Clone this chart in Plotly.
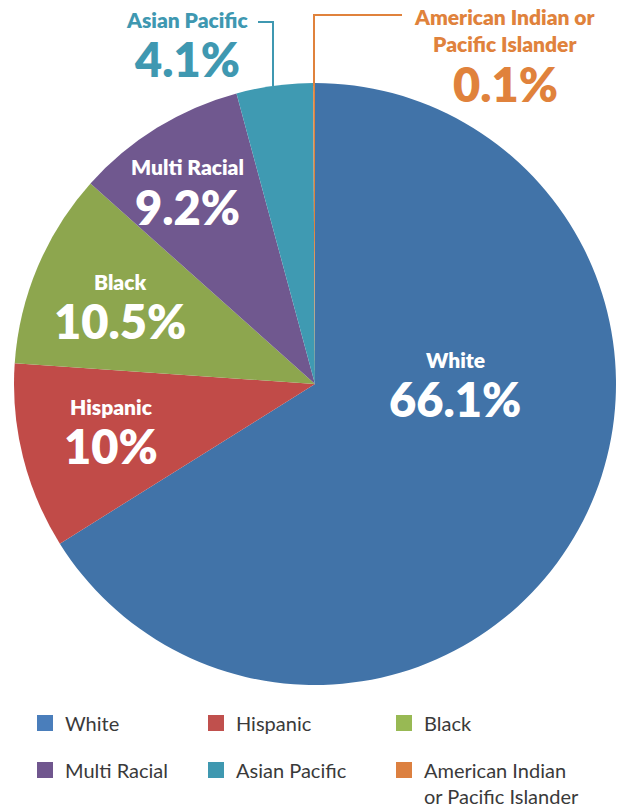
import plotly.graph_objects as go

# ---- data ----
categories = ["White", "Hispanic", "Black", "Multi Racial", "Asian Pacific",
              "American Indian or Pacific Islander"]
shares = [66.1, 10, 10.5, 9.2, 4.1, 0.1]
callout_names = ["White", "Hispanic", "Black", "Multi Racial", "Asian Pacific",
                 "American Indian or<br>Pacific Islander"]
legend_names = ["White", "Hispanic", "Black", "Multi Racial", "Asian Pacific",
                "American Indian<br>or Pacific Islander"]

# ---- style ----
W, H = 624, 808
slice_colors = ["#4173a8", "#c14b48", "#8da64e", "#70588f", "#3f9ab2", "#e0823c"]
legend_colors = ["#4a7ebb", "#c0504d", "#98b954", "#70568e", "#3f98b0", "#dc8040"]
label_colors = ["white", "white", "white", "white", "#3f98b1", "#e0823c"]
# label positions in pixels: (x, name_y, pct_y)
label_pos = [(455, 359, 399), (111, 406, 446), (120, 281, 321),
             (187, 167, 207), (187, 19, 59), (505, 30, 84)]
FONT = "Lato"


def px(x):
    return x / W


def py(y):
    return 1 - y / H


fig = go.Figure()
fig.add_trace(go.Pie(
    labels=categories, values=shares, sort=False, direction="clockwise",
    rotation=0, textinfo="none", hoverinfo="label+percent",
    marker=dict(colors=slice_colors, line=dict(width=0)),
    showlegend=False,
    domain=dict(x=[px(14), px(616)], y=[py(685), py(83)]),
))

# legend entries: one legend per column, rows as in the reference
legend_ids = ["legend", "legend2", "legend3"]
for i, (name, col) in enumerate(zip(legend_names, legend_colors)):
    fig.add_trace(go.Scatter(
        x=[None], y=[None], mode="markers", name=name,
        marker=dict(symbol="square", size=16, color=col, line=dict(width=0)),
        legend=legend_ids[i % 3], legendgroup=f"g{i}", hoverinfo="skip",
    ))

annotations = []
for name, val, (x, ny, vy), c in zip(callout_names, shares, label_pos, label_colors):
    annotations.append(dict(
        x=px(x), y=py(ny), xref="paper", yref="paper", xanchor="center", yanchor="middle",
        text=name, showarrow=False,
        font=dict(family=FONT, size=21, color=c, weight=800)))
    annotations.append(dict(
        x=px(x), y=py(vy), xref="paper", yref="paper", xanchor="center", yanchor="middle",
        text=f"{val:g}%", showarrow=False,
        font=dict(family=FONT, size=47, color=c, weight=800)))

shapes = [
    dict(type="path", xref="paper", yref="paper",
         path=f"M{px(258)},{py(22)} L{px(273)},{py(22)} L{px(273)},{py(86)}",
         line=dict(color="#3f98b1", width=2)),
    dict(type="path", xref="paper", yref="paper",
         path=f"M{px(402)},{py(15)} L{px(314)},{py(15)} L{px(314)},{py(86)}",
         line=dict(color="#e0823c", width=2)),
]

legend_common = dict(orientation="v", xanchor="left", yanchor="top", y=py(703.5),
                     traceorder="grouped", tracegroupgap=18, valign="top",
                     bgcolor="rgba(0,0,0,0)", borderwidth=0,
                     font=dict(family=FONT, size=20, color="#3a3a3a"),
                     itemclick=False, itemdoubleclick=False)
col_x = [25, 196, 384]

fig.update_layout(
    width=W, height=H, margin=dict(l=0, r=0, t=0, b=0, autoexpand=False),
    paper_bgcolor="white", plot_bgcolor="white",
    xaxis=dict(visible=False), yaxis=dict(visible=False),
    annotations=annotations, shapes=shapes,
    legend=dict(x=px(col_x[0]), **legend_common),
    legend2=dict(x=px(col_x[1]), **legend_common),
    legend3=dict(x=px(col_x[2]), **legend_common),
)

fig.write_html("out.html")
